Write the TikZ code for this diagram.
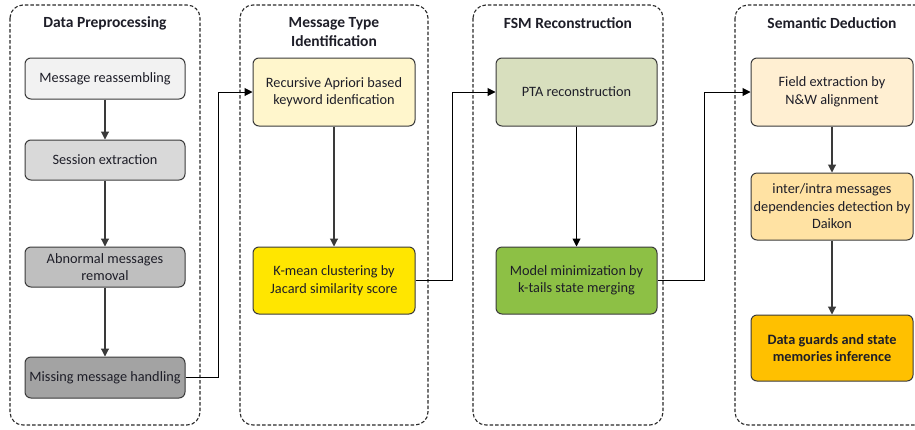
\documentclass[tikz,border=0pt]{standalone}
\usepackage{fontspec}
\setmainfont{Carlito}
\usetikzlibrary{arrows.meta,calc}
\definecolor{edge}{HTML}{3A3A3A}
\definecolor{frame}{HTML}{2A2A2A}
\definecolor{ink}{HTML}{1E1E28}
\definecolor{g1}{HTML}{F2F2F2}
\definecolor{g2}{HTML}{D9D9D9}
\definecolor{g3}{HTML}{BFBFBF}
\definecolor{g4}{HTML}{A3A3A3}
\definecolor{y1}{HTML}{FFF6CC}
\definecolor{y2}{HTML}{FFE600}
\definecolor{o1}{HTML}{D8DFBE}
\definecolor{o2}{HTML}{8DC045}
\definecolor{s1}{HTML}{FFEFD2}
\definecolor{s2}{HTML}{FFE2A3}
\definecolor{s3}{HTML}{FFC000}
\tikzset{
  panel/.style={draw=frame, line width=1.1pt, dash pattern=on 3.5pt off 2pt, rounded corners=13pt},
  title/.style={font=\fontsize{15.5}{19}\selectfont\bfseries, text=ink, align=center},
  stage/.style={draw=edge, line width=1pt, rounded corners=6pt, align=center,
    text=ink, font=\fontsize{14.3}{17.5}\selectfont, inner sep=1pt},
  flow/.style={draw=edge, line width=1.1pt, -{Triangle[length=8pt,width=8pt]}},
  link/.style={draw=black, line width=1pt, -{Triangle[length=8pt,width=8pt]}}
}
\begin{document}
\begin{tikzpicture}[x=1pt,y=-1pt]
\useasboundingbox (0,0) rectangle (915,429);
\clip (0,0) rectangle (915,429);
\fill[white] (0,0) rectangle (915,429);

% the four phases
\draw[panel] (10,5) rectangle (200,425);
\draw[panel] (240,5) rectangle (428,425);
\draw[panel] (473,5) rectangle (663,425);
\draw[panel] (735,5) rectangle (935,425);

\node[title] (t1) at (105,23) {Data Preprocessing};
\node[title] (t2) at (334,32.5) {Message Type\\Identification};
\node[title] (t3) at (568,23) {FSM Reconstruction};
\node[title] (t4) at (832,23) {Semantic Deduction};

% data preprocessing
\node[stage, fill=g1, minimum width=160pt, minimum height=41pt] (p1) at (105,78.5) {Message reassembling};
\node[stage, fill=g2, minimum width=160pt, minimum height=40pt] (p2) at (105,160) {Session extraction};
\node[stage, fill=g3, minimum width=160pt, minimum height=40pt] (p3) at (105,267) {Abnormal messages\\removal};
\node[stage, fill=g4, minimum width=160pt, minimum height=41pt] (p4) at (105,377.5) {Missing message handling};

% message type identification
\node[stage, fill=y1, minimum width=162pt, minimum height=68pt] (m1) at (334,92) {Recursive Apriori based\\keyword idenfication};
\node[stage, fill=y2, minimum width=162pt, minimum height=67pt] (m2) at (334,280.5) {K-mean clustering by\\Jacard similarity score};

% FSM reconstruction
\node[stage, fill=o1, minimum width=161pt, minimum height=68pt] (f1) at (576.5,92) {PTA reconstruction};
\node[stage, fill=o2, minimum width=161pt, minimum height=67pt] (f2) at (576.5,280.5) {Model minimization by\\k-tails state merging};

% semantic deduction
\node[stage, fill=s1, minimum width=162pt, minimum height=68pt] (d1) at (832,92) {Field extraction by\\N\&W alignment};
\node[stage, fill=s2, minimum width=162pt, minimum height=67pt] (d2) at (832,206.5) {inter/intra messages\\dependencies detection by\\Daikon};
\node[stage, fill=s3, minimum width=162pt, minimum height=66pt, font=\fontsize{14.3}{17.5}\selectfont\bfseries] (d3) at (832,348) {Data guards and state\\memories inference};

% arrows inside the phases
\draw[flow] (p1) -- (p2);
\draw[flow] (p2) -- (p3);
\draw[flow] (p3) -- (p4);
\draw[flow] (m1) -- (m2);
\draw[link] (f1) -- (f2);
\draw[flow] (d1) -- (d2);
\draw[flow] (d2) -- (d3);

% hand-over between phases
\coordinate (j1) at (218,0);
\coordinate (j2) at (452,0);
\coordinate (j3) at (704,0);
\draw[link] (p4.east) -- (p4.east -| j1) |- (m1.west);
\draw[link] (m2.east) -- (m2.east -| j2) |- (f1.west);
\draw[link] (f2.east) -- (f2.east -| j3) |- (d1.west);
\end{tikzpicture}
\end{document}
